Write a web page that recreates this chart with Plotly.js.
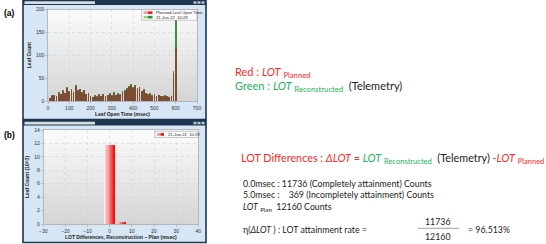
<!DOCTYPE html>
<html>
<head>
<meta charset="utf-8">
<script src="https://cdn.plot.ly/plotly-3.0.1.min.js"></script>
<style>html,body{margin:0;padding:0;background:#fff;}#chart{width:546px;height:244px;}</style>
</head>
<body>
<div id="chart"></div>
<script>
// ---------- data ----------
const lotBins = [10,20,30,40,50,60,70,80,90,100,110,120,130,140,150,160,170,180,190,200,
  210,220,230,240,250,260,270,280,290,300,310,320,330,340,350,360,370,380,390,400,
  410,420,430,440,450,460,470,480,490,500,510,520,530,540,550,560,570,580,590,600];
const plannedCounts = [6,12,14,11,18,15,21,17,29,20,24,19,33,22,26,18,23,15,17,11,
  8,12,9,14,10,15,11,13,16,12,18,13,16,14,20,22,27,31,35,29,
  33,26,30,21,25,17,14,16,12,14,10,13,11,9,12,10,8,11,66,115];
const reconCounts = [7,14,13,12,20,16,23,18,31,21,26,20,35,24,27,20,25,16,18,12,
  9,13,10,15,11,16,12,14,17,13,19,14,17,15,21,24,28,33,37,31,
  34,28,31,22,27,18,15,17,13,15,11,14,12,10,13,11,9,12,60,185];
const diffBins = [-5, 0, 5, 10];
const diffCounts = [0.020, 11.736, 0.369, 0.035];   // x10^3
const completeCount = 11736;
const incompleteCount = 369;
const planCount = 12160;
const legendA = ["Planned Leaf Open Time", "21-Jun-22  10:29"];
const legendB = ["21-Jun-22  10:29"];

// ---------- helpers ----------
const W = 546, H = 244;
const px = x => x / W;
const py = y => 1 - y / H;
const RED = '#ff2a2a', GRN = '#1db45a', TXT = '#222';

function mix(a, b, t) {
  return 'rgb(' + a.map((v, i) => Math.round(v + (b[i] - v) * t)).join(',') + ')';
}

// ---------- traces ----------
const traces = [];
traces.push({type:'bar', x: lotBins, y: reconCounts, name: legendA[1], width: 8.5,
  marker:{color:'#4a8a46'}, xaxis:'x', yaxis:'y', showlegend:false, hoverinfo:'skip'});
traces.push({type:'bar', x: lotBins, y: plannedCounts, name: legendA[0], width: 8.5,
  marker:{color:'rgba(150,45,40,0.66)'}, xaxis:'x', yaxis:'y', showlegend:false, hoverinfo:'skip'});

const N = 10, bw = 5;
for (let k = 0; k < N; k++) {
  const t = Math.pow(k / (N - 1), 0.9);
  traces.push({type:'bar', x: diffBins, y: diffCounts, name: legendB[0],
    width: bw / N, offset: -bw / 2 + k * bw / N,
    marker:{color: mix([253,238,238],[238,10,10], t), line:{width:0}},
    xaxis:'x2', yaxis:'y2', showlegend:false, hoverinfo:'skip'});
}

// ---------- shapes (window frames, gradient plot backgrounds, legends) ----------
const shapes = [];
function rect(x0, y0, x1, y1, fill, line, lw, layer) {
  shapes.push({type:'rect', xref:'paper', yref:'paper', x0:px(x0), x1:px(x1), y0:py(y1), y1:py(y0),
    fillcolor: fill, line:{color: line || 'rgba(0,0,0,0)', width: lw || 0}, layer: layer || 'below'});
}
function frame(top, bottom) {
  rect(23, top, 206, bottom, '#d6e6f4', '#1c3651', 1.6);
  rect(23, top, 206, top + 5, '#1c3651');
  rect(24.5, top + 1.2, 95, top + 4, '#d7dce3');
  [193.5, 197.5, 201.5].forEach(x => rect(x, top + 1.3, x + 3, top + 3.8, '#b9c6d4'));
}
frame(0, 119.5);
frame(120.5, 242.5);

function gradientBox(x0, y0, x1, y1) {
  const n = 16;
  for (let i = 0; i < n; i++) {
    const a = y0 + (y1 - y0) * i / n, b = y0 + (y1 - y0) * (i + 1) / n;
    rect(x0, a, x1, b + 0.3, mix([250,250,250],[214,214,214], i / (n - 1)));
  }
}
gradientBox(48, 9.3, 197, 101);
gradientBox(43.3, 130, 198.3, 224);

// legend (a)
rect(141.7, 9.6, 197, 20.2, '#ffffff', '#8c8c8c', 0.5, 'above');
rect(143.5, 11.3, 148, 14.0, '#f29a9a', null, 0, 'above');
rect(148, 11.3, 152.5, 14.0, '#e02828', null, 0, 'above');
rect(143.5, 15.8, 148, 18.5, '#8fd08f', null, 0, 'above');
rect(148, 15.8, 152.5, 18.5, '#2f8f3a', null, 0, 'above');
// legend (b)
rect(155, 131.3, 198.5, 137.4, '#ffffff', '#8c8c8c', 0.5, 'above');
rect(157, 133, 160.5, 135.8, '#f29a9a', null, 0, 'above');
rect(160.5, 133, 164, 135.8, '#ee1a1a', null, 0, 'above');
// fraction line
shapes.push({type:'line', xref:'paper', yref:'paper', x0:px(418), x1:px(459), y0:py(228.3), y1:py(228.3),
  line:{color:'#888', width:0.8}});

// ---------- annotations ----------
const F = 'Lato, "Open Sans", sans-serif';
function ann(text, x, y, size, opts) {
  return Object.assign({text, xref:'paper', yref:'paper', x:px(x), y:py(y), xanchor:'left', yanchor:'middle',
    showarrow:false, font:{family:F, size, color:TXT}}, opts || {});
}
const nb = '\u00a0';
const legFont = {family:'Liberation Sans, Arial', size:4.2, color:'#222'};
const annotations = [
  ann('<b>(a)</b>', 2, 13, 8.5, {font:{family:'Liberation Sans, Arial', size:8.5, color:'#000'}}),
  ann('<b>(b)</b>', 2, 135, 8.5, {font:{family:'Liberation Sans, Arial', size:8.5, color:'#000'}}),
  ann('<span style="color:' + RED + '">Red : <i>LOT</i> <sub>Planned</sub></span>', 233, 72, 11),
  ann('<span style="color:' + GRN + '">Green : <i>LOT</i> <sub>Reconstructed</sub></span>' + nb + nb + '(Telemetry)', 233, 86, 11),
  ann('<span style="color:' + RED + '">LOT Differences : <i>ΔLOT</i> = </span><span style="color:' + GRN +
      '"><i>LOT</i> <sub>Reconstructed</sub></span>' + nb + nb + '(Telemetry) <span style="color:' + RED +
      '">-<i>LOT</i> <sub>Planned</sub></span>', 239, 158, 10.8),
  ann('0.0msec : ' + completeCount + ' (Completely attainment) Counts', 241, 183.5, 8.8),
  ann('5.0msec :' + nb + nb + nb + nb + incompleteCount + ' (Incompletely attainment) Counts', 241, 194.5, 8.8),
  ann('<i>LOT</i> <sub>Plan</sub>' + nb + nb + planCount + ' Counts', 241, 207, 8.8),
  ann('η(<i>ΔLOT</i> ) : LOT attainment rate =', 241, 229.5, 8.8),
  ann(String(completeCount), 438, 221.5, 8.8, {xanchor:'center'}),
  ann(String(planCount), 438, 236.5, 8.8, {xanchor:'center'}),
  ann('= ' + (completeCount / planCount * 100).toFixed(3) + '%', 466, 229.5, 8.8),
  ann(legendA[0], 154, 12.7, 4.2, {font:legFont}),
  ann(legendA[1], 154, 17.2, 4.2, {font:legFont}),
  ann(legendB[0], 166, 134.4, 4.2, {font:legFont})
];

// ---------- axes ----------
const tickFont = {family:'Liberation Sans, Arial', size:5, color:'#333'};
const titleFont = {family:'Liberation Sans, Arial', size:5, color:'#222', weight:700};
const axCommon = {showline:true, mirror:true, linecolor:'#9a9a9a', linewidth:0.6, ticks:'outside', ticklen:2,
  tickcolor:'#9a9a9a', tickwidth:0.5, tickfont:tickFont, showgrid:true, gridcolor:'#cfcfcf', gridwidth:0.5,
  griddash:'dot', zeroline:false, fixedrange:true};

const layout = {
  width: W, height: H, margin:{l:0, r:0, t:0, b:0}, paper_bgcolor:'#ffffff', plot_bgcolor:'rgba(0,0,0,0)',
  barmode:'overlay', showlegend:false, bargap:0,
  xaxis: Object.assign({}, axCommon, {domain:[px(48), px(197)], range:[0, 700], dtick:100, anchor:'y',
    title:{text:'Leaf Open Time (msec)', font:titleFont, standoff:2}}),
  yaxis: Object.assign({}, axCommon, {domain:[py(101), py(9.3)], range:[0, 200], dtick:50, anchor:'x',
    title:{text:'Leaf Count', font:titleFont, standoff:4}}),
  xaxis2: Object.assign({}, axCommon, {domain:[px(43.3), px(198.3)], range:[-30, 40], dtick:10, anchor:'y2',
    title:{text:'LOT Differences, Reconstruction \u2013 Plan (msec)', font:titleFont, standoff:2}}),
  yaxis2: Object.assign({}, axCommon, {domain:[py(224), py(130)], range:[0, 14], dtick:2, anchor:'x2',
    title:{text:'Leaf Count (10^3)', font:titleFont, standoff:4}}),
  shapes, annotations
};

Plotly.newPlot('chart', traces, layout, {staticPlot:true, displayModeBar:false});
</script>
</body>
</html>
